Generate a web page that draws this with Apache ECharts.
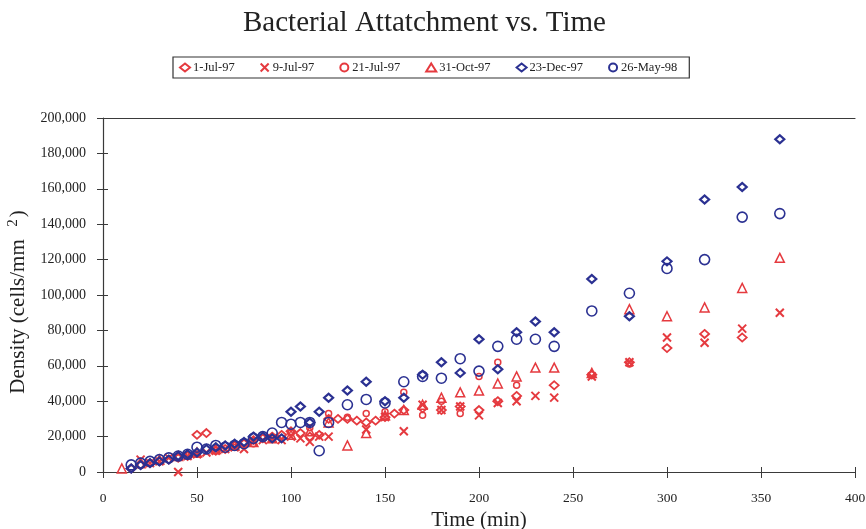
<!DOCTYPE html>
<html>
<head>
<meta charset="utf-8">
<script src="https://cdn.jsdelivr.net/npm/echarts@6/dist/echarts.min.js"></script>
<style>
html,body{margin:0;padding:0;background:#fff;}
#chart{width:866px;height:529px;}
</style>
</head>
<body>
<div id="chart"></div>
<script>
// Data: [time (min), density (thousand cells/mm^2)]
var jul1_97 = [[15,2],[20,4],[25,5],[30,6],[35,7],[40,8],[45,9],[50,21],[55,22],[60,12],[65,13],[70,15],[75,16],[80,18],[85,19],[90,20],[95,21],[100,23],[105,22],[110,20],[115,21],[120,30],[125,30],[130,30],[135,29],[140,28],[145,29],[150,31],[155,33],[160,35],[170,36],[180,35],[190,37],[200,35],[210,40],[220,43],[240,49],[260,55],[280,62],[300,70],[320,78],[340,76]];
var jul9_97 = [[20,7],[25,5],[30,6],[35,8],[40,0],[45,9],[50,10],[55,11],[60,12],[65,13],[70,14],[75,13],[80,17],[85,18],[90,19],[95,18],[100,20],[105,19],[110,17],[115,20],[120,20],[140,24],[150,31],[160,23],[170,38],[180,35],[190,37],[200,32],[210,39],[220,40],[230,43],[240,42],[260,54],[280,62],[300,76],[320,73],[340,81],[360,90]];
var jul21_97 = [[15,2],[20,4],[25,5],[30,6],[40,8],[50,10],[60,12],[70,14],[80,16],[90,19],[100,22],[110,25],[120,33],[130,31],[140,33],[150,34],[160,45],[170,32],[180,40],[190,33],[200,54],[210,62],[220,49],[260,55],[280,61]];
var oct31_97 = [[10,2],[20,5],[30,7],[40,9],[50,11],[60,13],[70,15],[80,17],[90,19],[100,21],[110,23],[120,28],[130,15],[140,22],[150,32],[160,35],[170,38],[180,42],[190,45],[200,46],[210,50],[220,54],[230,59],[240,59],[260,56],[280,92],[300,88],[320,93],[340,104],[360,121]];
var dec23_97 = [[15,2],[20,4],[25,5],[30,6],[35,7],[40,9],[45,10],[50,11],[55,13],[60,14],[65,15],[70,16],[75,17],[80,20],[85,20],[90,19],[95,19],[100,34],[105,37],[110,28],[115,34],[120,42],[130,46],[140,51],[150,40],[160,42],[170,55],[180,62],[190,56],[200,75],[210,58],[220,79],[230,85],[240,79],[260,109],[280,88],[300,119],[320,154],[340,161],[360,188]];
var may26_98 = [[15,4],[20,5],[25,6],[30,7],[35,8],[40,9],[45,10],[50,14],[55,13],[60,15],[65,14],[70,15],[75,16],[80,19],[85,20],[90,22],[95,28],[100,27],[105,28],[110,28],[115,12],[120,28],[130,38],[140,41],[150,39],[160,51],[170,54],[180,53],[190,64],[200,57],[210,71],[220,75],[230,75],[240,71],[260,91],[280,101],[300,115],[320,120],[340,144],[360,146]];

var seriesNames = ['1-Jul-97','9-Jul-97','21-Jul-97','31-Oct-97','23-Dec-97','26-May-98'];
var xTicks = [0,50,100,150,200,250,300,350,400];
var yTicks = [0,20000,40000,60000,80000,100000,120000,140000,160000,180000,200000];

var RED = '#e53a3f', BLUE = '#2b3192';
var SERIF = '"Liberation Serif","DejaVu Serif",serif';
function scale(arr){ return arr.map(function(p){ return [p[0], p[1]*1000]; }); }
var crossPath = 'path://M0,0L10,10M10,0L0,10';

function mk(name, data, symbol, size, color, bw){
  return {
    name: name, type: 'scatter', data: scale(data),
    symbol: symbol, symbolSize: size,
    itemStyle: {color: 'rgba(255,255,255,0)', borderColor: color, borderWidth: bw, opacity: 1},
    emphasis: {disabled: true}
  };
}

var chart = echarts.init(document.getElementById('chart'), null, {renderer: 'canvas'});
var axisColor = '#3a3a3a';
chart.setOption({
  animation: false,
  backgroundColor: '#ffffff',
  title: {
    text: 'Bacterial Attatchment vs. Time',
    left: 238, top: 4,
    textStyle: {fontFamily: SERIF, fontWeight: 'normal', fontSize: 29, color: '#222'}
  },
  legend: {
    data: seriesNames,
    left: 173, top: 57,
    padding: [4, 12, 4, 6],
    itemGap: 25, itemWidth: 10, itemHeight: 8,
    borderColor: '#333', borderWidth: 1.2,
    textStyle: {fontFamily: SERIF, fontSize: 12.5, color: '#222', padding: [0,0,0,-2]}
  },
  grid: {left: 103, right: 11, top: 118, bottom: 57, containLabel: false, outerBoundsMode: 'none'},
  xAxis: [{
    type: 'value', min: 0, max: 400, interval: 50, position: 'bottom',
    axisLine: {lineStyle: {color: axisColor, width: 1.2}},
    axisTick: {show: true, length: 6, lineStyle: {color: axisColor}},
    axisLabel: {fontFamily: SERIF, fontSize: 13.5, color: '#222', margin: 19,
      formatter: function(v){ return xTicks.indexOf(v) >= 0 ? String(v) : ''; }},
    splitLine: {show: false},
    name: 'Time (min)', nameLocation: 'middle', nameGap: 37,
    nameTextStyle: {fontFamily: SERIF, fontSize: 21, color: '#222'}
  },{
    type: 'value', min: 0, max: 400, interval: 50, position: 'bottom',
    axisLine: {show: false},
    axisTick: {show: true, inside: true, length: 5, lineStyle: {color: axisColor}},
    axisLabel: {show: false}, splitLine: {show: false}
  },{
    type: 'value', min: 0, max: 400, interval: 50, position: 'top',
    axisLine: {show: true, lineStyle: {color: axisColor, width: 1.2}},
    axisTick: {show: false}, axisLabel: {show: false}, splitLine: {show: false}
  }],
  yAxis: [{
    type: 'value', min: 0, max: 200000, interval: 20000,
    axisLine: {show: true, lineStyle: {color: axisColor, width: 1.2}},
    axisTick: {show: true, length: 6, lineStyle: {color: axisColor}},
    axisLabel: {fontFamily: SERIF, fontSize: 14, color: '#222', margin: 17,
      formatter: function(v){ return yTicks.indexOf(v) >= 0 ? v.toLocaleString('en-US') : ''; }},
    splitLine: {show: false},
    name: '{a|Density (cells/mm  }{s|2}{a|)}{p| }', nameLocation: 'middle', nameGap: 72,
    nameTextStyle: {fontFamily: SERIF, fontSize: 21, color: '#222',
      rich: {a: {fontFamily: SERIF, fontSize: 21, color: '#222'},
             s: {fontFamily: SERIF, fontSize: 15, color: '#222', padding: [0,2,10,2]},
             p: {fontFamily: SERIF, fontSize: 21, width: 14}}}
  },{
    type: 'value', min: 0, max: 200000, interval: 20000, position: 'left',
    axisLine: {show: false},
    axisTick: {show: true, inside: true, length: 5, lineStyle: {color: axisColor}},
    axisLabel: {show: false}, splitLine: {show: false}
  }],
  series: [
    mk(seriesNames[0], jul1_97, 'diamond', [9,8], RED, 1.8),
    mk(seriesNames[1], jul9_97, crossPath, 8, RED, 2),
    mk(seriesNames[2], jul21_97, 'circle', 6, RED, 1.5),
    mk(seriesNames[3], oct31_97, 'triangle', 9, RED, 1.5),
    mk(seriesNames[4], dec23_97, 'diamond', [9,8], BLUE, 2.2),
    mk(seriesNames[5], may26_98, 'circle', 10, BLUE, 1.6)
  ]
});
</script>
</body>
</html>
